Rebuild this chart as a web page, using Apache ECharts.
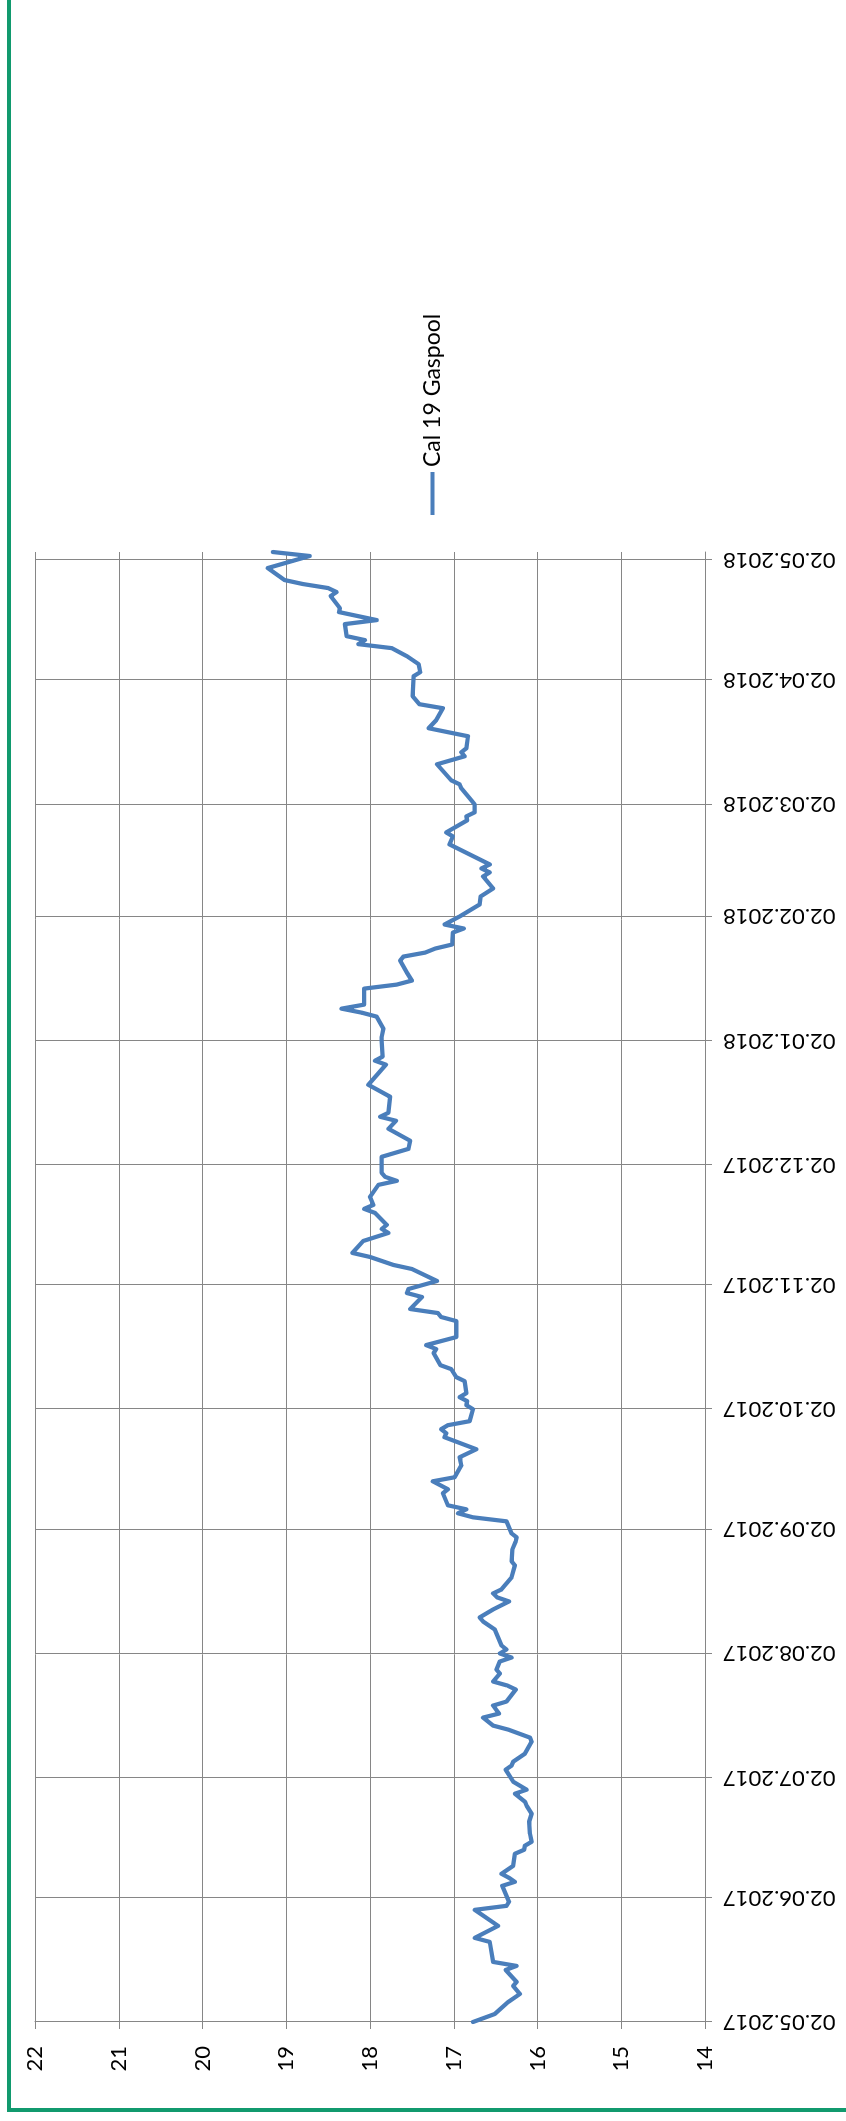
<!DOCTYPE html>
<html><head><meta charset="utf-8">
<script src="https://cdn.jsdelivr.net/npm/echarts@6/dist/echarts.min.js"></script>
<style>
html,body{margin:0;padding:0;width:846px;height:2121px;overflow:hidden;background:#fff;}
#frame{position:absolute;left:7px;top:-10px;width:900px;height:2122px;box-sizing:border-box;border-left:4px solid #119a6e;border-bottom:4px solid #119a6e;}
#chart{position:absolute;left:0;top:0;width:2121px;height:846px;transform-origin:0 0;transform:translate(0px,2121px) rotate(-90deg);}
</style></head><body>
<div id="frame"></div>
<div id="chart"></div>
<script>
const seriesName = 'Cal 19 Gaspool';
const startDate = '02.05.2017';
const endDate = '04.05.2018';
const tickLabels = ['02.05.2017','02.06.2017','02.07.2017','02.08.2017','02.09.2017','02.10.2017','02.11.2017','02.12.2017','02.01.2018','02.02.2018','02.03.2018','02.04.2018','02.05.2018'];
const valueMin = 14, valueMax = 22, valueStep = 1;

const dates = [
'02.05.2017','04.05.2017','07.05.2017','09.05.2017','11.05.2017','12.05.2017','15.05.2017','16.05.2017','17.05.2017','22.05.2017','23.05.2017','26.05.2017','30.05.2017','31.05.2017',
'01.06.2017','05.06.2017','06.06.2017','07.06.2017','08.06.2017','10.06.2017','13.06.2017','14.06.2017','15.06.2017','16.06.2017','18.06.2017','21.06.2017','23.06.2017','25.06.2017','26.06.2017','28.06.2017','29.06.2017',
'01.07.2017','04.07.2017','05.07.2017','06.07.2017','08.07.2017','11.07.2017','12.07.2017','14.07.2017','15.07.2017','17.07.2017','18.07.2017','20.07.2017','21.07.2017','24.07.2017','25.07.2017','26.07.2017','28.07.2017','29.07.2017','31.07.2017',
'01.08.2017','02.08.2017','03.08.2017','04.08.2017','08.08.2017','10.08.2017','11.08.2017','13.08.2017','15.08.2017','16.08.2017','17.08.2017','18.08.2017','21.08.2017','24.08.2017','25.08.2017','28.08.2017','30.08.2017','31.08.2017',
'01.09.2017','04.09.2017','05.09.2017','06.09.2017','07.09.2017','08.09.2017','11.09.2017','12.09.2017','14.09.2017','15.09.2017','18.09.2017','20.09.2017','22.09.2017','25.09.2017','26.09.2017','27.09.2017','28.09.2017','29.09.2017',
'02.10.2017','03.10.2017','04.10.2017','05.10.2017','06.10.2017','09.10.2017','10.10.2017','12.10.2017','13.10.2017','16.10.2017','17.10.2017','18.10.2017','20.10.2017','24.10.2017','25.10.2017','26.10.2017','27.10.2017','30.10.2017','31.10.2017',
'01.11.2017','03.11.2017','06.11.2017','07.11.2017','09.11.2017','10.11.2017','13.11.2017','15.11.2017','16.11.2017','17.11.2017','20.11.2017','21.11.2017','22.11.2017','24.11.2017','27.11.2017','28.11.2017','29.11.2017','30.11.2017',
'04.12.2017','06.12.2017','08.12.2017','11.12.2017','13.12.2017','14.12.2017','15.12.2017','19.12.2017','22.12.2017','27.12.2017','28.12.2017','29.12.2017',
'02.01.2018','03.01.2018','05.01.2018','08.01.2018','09.01.2018','10.01.2018','11.01.2018','15.01.2018','16.01.2018','17.01.2018','19.01.2018','22.01.2018','23.01.2018','24.01.2018','25.01.2018','26.01.2018','29.01.2018','30.01.2018','31.01.2018',
'02.02.2018','05.02.2018','07.02.2018','09.02.2018','12.02.2018','13.02.2018','14.02.2018','15.02.2018','20.02.2018','22.02.2018','23.02.2018','26.02.2018','27.02.2018','28.02.2018',
'02.03.2018','03.03.2018','06.03.2018','07.03.2018','08.03.2018','12.03.2018','14.03.2018','15.03.2018','16.03.2018','19.03.2018','21.03.2018','23.03.2018','26.03.2018','27.03.2018','29.03.2018',
'03.04.2018','04.04.2018','06.04.2018','08.04.2018','10.04.2018','11.04.2018','12.04.2018','13.04.2018','16.04.2018','17.04.2018','19.04.2018','20.04.2018','23.04.2018','24.04.2018','25.04.2018','26.04.2018','27.04.2018','30.04.2018',
'03.05.2018','04.05.2018'
];
const values = [
16.77,16.51,16.35,16.21,16.29,16.25,16.38,16.25,16.53,16.57,16.75,16.47,16.75,16.37,
16.34,16.42,16.27,16.34,16.43,16.29,16.27,16.16,16.15,16.07,16.09,16.10,16.07,16.13,16.15,16.27,16.13,
16.29,16.38,16.31,16.29,16.15,16.07,16.09,16.35,16.53,16.65,16.46,16.53,16.37,16.26,16.36,16.53,16.45,16.49,16.45,
16.31,16.45,16.37,16.43,16.51,16.65,16.69,16.53,16.34,16.48,16.53,16.43,16.31,16.27,16.31,16.30,16.26,16.25,
16.31,16.37,16.77,16.95,16.85,17.07,17.13,17.07,17.25,16.99,16.91,16.93,16.73,17.11,17.09,17.15,17.07,16.81,
16.77,16.85,16.84,16.93,16.85,16.87,16.97,17.03,17.16,17.24,17.21,17.33,16.97,16.97,17.15,17.19,17.52,17.38,17.56,
17.54,17.20,17.50,17.72,18.00,18.21,18.08,17.78,17.86,17.80,17.94,18.07,17.96,18.00,17.90,17.68,17.82,17.86,
17.86,17.54,17.52,17.78,17.69,17.88,17.78,17.76,18.02,17.81,17.94,17.85,
17.86,17.86,17.84,17.92,18.10,18.34,18.07,18.07,17.68,17.50,17.56,17.64,17.60,17.34,17.22,17.02,17.01,16.88,17.11,
16.93,16.69,16.68,16.53,16.65,16.57,16.67,16.57,17.05,17.01,17.09,16.84,16.85,16.75,
16.75,16.79,16.91,16.93,17.03,17.20,16.87,16.91,16.85,16.83,17.30,17.21,17.13,17.41,17.49,
17.48,17.40,17.42,17.56,17.74,18.14,18.06,18.28,18.30,17.92,18.37,18.36,18.47,18.40,18.50,18.80,19.02,19.22,
18.72,19.16
];

function parseD(s){const p=s.split('.').map(Number);return Date.UTC(p[2],p[1]-1,p[0]);}
function fmtD(t){const d=new Date(t);const pad=n=>String(n).padStart(2,'0');return pad(d.getUTCDate())+'.'+pad(d.getUTCMonth()+1)+'.'+d.getUTCFullYear();}
const categories=[];
for(let t=parseD(startDate);t<=parseD(endDate);t+=86400000) categories.push(fmtD(t));
const seriesData = dates.map((d,i)=>[categories.indexOf(d), values[i]]);
const isTick = (i, v) => tickLabels.indexOf(categories[i]) >= 0;

const gridColor = '#868686';
const lineColor = '#4a7ebb';
const font = 'Lato, "Liberation Sans", sans-serif';
const chart = echarts.init(document.getElementById('chart'), null, {renderer:'canvas'});
chart.setOption({
  animation:false,
  backgroundColor:'transparent',
  grid:{left:99, right:552, top:35, bottom:141, containLabel:false, outerBoundsMode:'none'},
  legend:{show:true, left:1601, top:416, itemWidth:43, itemHeight:4, itemGap:10, icon:'rect',
    itemStyle:{color:lineColor},
    textStyle:{fontSize:23, fontFamily:font, color:'#000', padding:[0,0,0,0]},
    data:[seriesName]},
  xAxis:{type:'category', data:categories, boundaryGap:false,
    axisLine:{show:true, lineStyle:{color:gridColor, width:1}},
    axisTick:{show:true, length:7, interval:isTick, lineStyle:{color:gridColor, width:1}},
    axisLabel:{show:true, interval:isTick, rotate:90, margin:18, fontSize:22, fontFamily:font, color:'#000'},
    splitLine:{show:true, interval:isTick, lineStyle:{color:gridColor, width:1}}},
  yAxis:{type:'value', min:valueMin, max:valueMax, interval:valueStep, position:'left',
    axisLine:{show:true, lineStyle:{color:gridColor, width:1}},
    axisTick:{show:true, length:7, lineStyle:{color:gridColor, width:1}},
    axisLabel:{margin:24, fontSize:22, fontFamily:font, color:'#000'},
    splitLine:{show:true, lineStyle:{color:gridColor, width:1}}},
  series:[{type:'line', name:seriesName, data:seriesData, symbol:'none', showSymbol:false,
    lineStyle:{color:lineColor, width:4.25, join:'round', cap:'round'}, itemStyle:{color:lineColor}}]
});
</script>
</body></html>
